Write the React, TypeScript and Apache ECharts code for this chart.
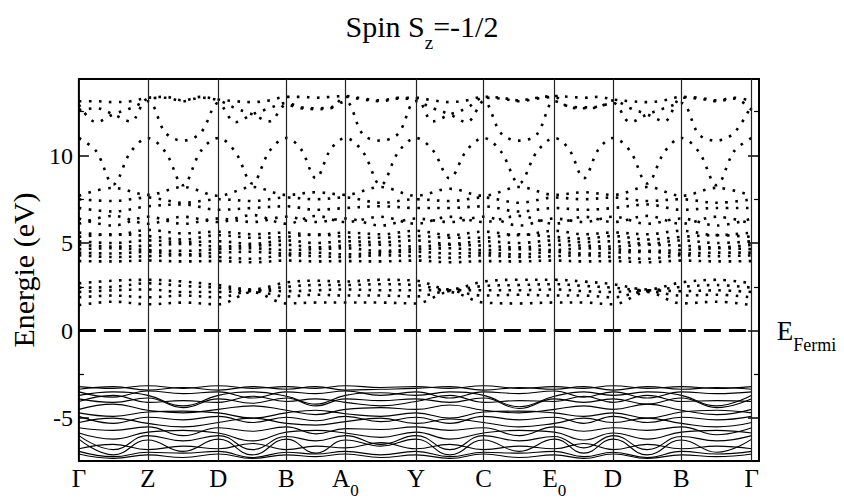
import React, { useEffect, useRef } from "react";
import * as echarts from "echarts";

const FONT = "Liberation Serif";

// High-symmetry points (labels and their positions along the k-path)
const kLabels = ["Γ", "Z", "D", "B", "A0", "Y", "C", "E0", "D", "B", "Γ"];
const kPos = [0, 69.3, 140.3, 208.7, 268, 339, 407, 478.3, 537.3, 606, 676.7];
const xMax = 684;
const yMin = -7.45;
const yMax = 14.37;
const majorTicks = [-5, 0, 5, 10];
const minorTicks = [-2.5, 2.5, 7.5, 12.5];

// ---- Conduction bands, sampled at quarter points of each segment (41 values) ----
const hb1 = [
  13.1, 13.1, 13.05, 13.1,
  13.3, 13.35, 13.15, 13.35,
  13.2, 13.1, 13.05, 13.15,
  13.35, 13.35, 13.3, 13.35,
  13.4, 13.25, 13.15, 13.3,
  13.3, 13.15, 13.05, 13.15,
  13.35, 13.3, 13.15, 13.3,
  13.4, 13.35, 13.3, 13.35,
  13.2, 13.1, 13.05, 13.15,
  13.35, 13.3, 13.15, 13.3, 13.1,
];
const hb2 = [
  12.9, 11.9, 12.35, 12.7,
  13.1, 11.3, 10.85, 11.3,
  13.0, 11.9, 12.35, 12.7,
  13.0, 12.75, 12.7, 12.75,
  13.1, 11.2, 10.85, 11.25,
  13.1, 12.7, 12.35, 11.9,
  13.1, 11.25, 10.85, 11.2,
  13.1, 12.8, 12.75, 12.8,
  13.0, 11.9, 12.35, 12.7,
  13.0, 11.2, 10.85, 11.3, 12.9,
];
const hb2b = [
  12.6, 12.7, 12.35, 11.95,
  13.25, 13.3, 13.1, 13.3,
  13.15, 12.7, 12.35, 11.95,
  12.9, 12.7, 12.65, 12.7,
  13.35, 13.2, 13.1, 13.25,
  13.25, 11.95, 12.35, 12.7,
  13.3, 13.25, 13.1, 13.25,
  13.35, 12.75, 12.7, 12.75,
  13.15, 12.7, 12.35, 11.95,
  13.3, 13.25, 13.1, 13.25, 12.6,
];
const hb3 = [
  11.0, 10.25, 8.35, 10.2,
  11.0, 10.2, 8.3, 10.25,
  11.0, 10.2, 8.4, 10.25,
  11.0, 10.35, 8.7, 10.35,
  11.0, 10.2, 8.3, 10.2,
  11.0, 10.3, 8.7, 10.3,
  11.0, 10.2, 8.4, 10.2,
  11.0, 10.35, 8.7, 10.35,
  11.0, 10.25, 8.4, 10.2,
  11.0, 10.2, 8.3, 10.25, 11.0,
];

// ---- Conduction bands at k-points and segment midpoints (21 values) ----
const g3a = [7.7, 8.15, 7.75, 8.2, 7.7, 8.2, 7.75, 7.9, 7.75, 8.2, 7.7, 8.1, 7.7, 8.2, 7.75, 7.9, 7.75, 8.2, 7.7, 8.15, 7.7];
const g3b = [7.5, 7.4, 7.6, 7.3, 7.5, 7.4, 7.6, 7.5, 7.6, 7.3, 7.5, 7.4, 7.6, 7.3, 7.6, 7.5, 7.6, 7.4, 7.5, 7.3, 7.5];
const g3c = [7.0, 6.8, 7.1, 7.2, 6.9, 7.0, 7.1, 6.9, 7.0, 7.1, 7.0, 7.0, 7.1, 6.8, 7.0, 6.9, 7.0, 7.2, 6.9, 7.0, 7.0];
const g3d = [6.1, 6.55, 6.1, 6.5, 6.2, 6.6, 6.1, 6.55, 6.2, 6.5, 6.1, 6.5, 6.2, 6.55, 6.1, 6.5, 6.2, 6.55, 6.1, 6.5, 6.1];
const g3e = [6.4, 6.0, 6.5, 6.1, 6.4, 6.2, 6.5, 6.2, 6.4, 6.0, 6.4, 6.2, 6.5, 6.0, 6.4, 6.2, 6.5, 6.1, 6.4, 6.0, 6.4];

const g2a = [5.6, 5.45, 5.75, 5.55, 5.65, 5.5, 5.6, 5.45, 5.6, 5.5, 5.7, 5.45, 5.65, 5.45, 5.7, 5.5, 5.6, 5.5, 5.7, 5.45, 5.6];
const g2b = [5.35, 5.5, 5.4, 5.2, 5.45, 5.3, 5.35, 5.5, 5.35, 5.3, 5.4, 5.3, 5.3, 5.5, 5.35, 5.25, 5.4, 5.2, 5.35, 5.45, 5.35];
const g2c = [5.1, 5.0, 5.15, 5.05, 5.1, 4.95, 5.15, 5.0, 5.1, 5.05, 5.15, 4.95, 5.1, 5.0, 5.15, 5.05, 5.1, 4.95, 5.15, 5.0, 5.1];
const g2d = [4.9, 4.8, 4.85, 4.95, 4.8, 4.85, 4.9, 4.75, 4.85, 4.9, 4.8, 4.9, 4.85, 4.75, 4.9, 4.85, 4.8, 4.9, 4.85, 4.75, 4.9];
const g2e = [4.65, 4.7, 4.6, 4.55, 4.65, 4.7, 4.6, 4.65, 4.7, 4.55, 4.65, 4.7, 4.6, 4.65, 4.6, 4.7, 4.65, 4.55, 4.6, 4.7, 4.65];
const g2f = [4.45, 4.4, 4.5, 4.35, 4.45, 4.5, 4.4, 4.45, 4.35, 4.45, 4.5, 4.4, 4.45, 4.35, 4.5, 4.4, 4.45, 4.5, 4.4, 4.45, 4.45];
const g2g = [4.3, 4.2, 4.25, 4.3, 4.2, 4.1, 4.3, 4.25, 4.2, 4.3, 4.25, 4.15, 4.3, 4.2, 4.25, 4.3, 4.2, 4.1, 4.3, 4.25, 4.3];
const g2h = [3.97, 3.95, 4.0, 3.95, 3.97, 3.9, 4.0, 3.95, 3.97, 3.95, 4.0, 3.9, 3.97, 3.95, 4.0, 3.95, 3.97, 3.9, 4.0, 3.95, 3.97];

const g1a = [2.7, 2.85, 2.9, 2.8, 2.6, 2.35, 2.75, 2.85, 2.8, 2.9, 2.85, 2.35, 2.8, 2.9, 2.9, 2.8, 2.65, 2.35, 2.75, 2.9, 2.7];
const g1b = [2.45, 2.5, 2.7, 2.55, 2.45, 2.3, 2.5, 2.6, 2.6, 2.65, 2.6, 2.3, 2.55, 2.6, 2.65, 2.55, 2.45, 2.3, 2.5, 2.6, 2.45];
const g1c = [2.2, 2.3, 2.35, 2.2, 2.2, 2.3, 2.25, 2.3, 2.35, 2.3, 2.3, 2.3, 2.3, 2.3, 2.35, 2.25, 2.2, 2.3, 2.25, 2.3, 2.2];
const g1d = [1.9, 2.0, 1.9, 2.0, 1.9, 2.25, 1.95, 2.05, 2.0, 2.0, 1.95, 2.25, 2.0, 2.05, 2.0, 2.0, 1.9, 2.25, 2.0, 2.05, 1.9];
const g1e = [1.45, 1.65, 1.5, 1.6, 1.5, 2.2, 1.55, 1.6, 1.6, 1.6, 1.55, 2.2, 1.6, 1.55, 1.6, 1.6, 1.5, 2.2, 1.55, 1.65, 1.45];

// ---- Valence bands (solid lines), 21 values ----
const v1 = [-3.2, -3.3, -3.15, -3.3, -3.15, -3.3, -3.2, -3.3, -3.15, -3.25, -3.2, -3.3, -3.15, -3.3, -3.2, -3.3, -3.15, -3.3, -3.2, -3.3, -3.2];
const v2 = [-3.35, -3.2, -3.4, -3.25, -3.4, -3.2, -3.35, -3.2, -3.4, -3.35, -3.3, -3.2, -3.4, -3.25, -3.35, -3.2, -3.4, -3.2, -3.35, -3.25, -3.35];
const v3 = [-3.5, -3.8, -3.45, -3.6, -3.5, -3.85, -3.5, -3.6, -3.45, -3.7, -3.5, -3.85, -3.5, -3.6, -3.45, -3.8, -3.5, -3.85, -3.5, -3.6, -3.5];
const v4 = [-3.7, -3.5, -3.7, -4.3, -3.7, -3.5, -3.75, -4.2, -3.7, -3.55, -3.7, -3.5, -3.7, -4.35, -3.75, -3.5, -3.7, -3.5, -3.7, -4.3, -3.7];
const v5 = [-3.9, -4.1, -3.85, -4.4, -3.9, -4.15, -3.85, -4.3, -3.9, -4.0, -3.9, -4.1, -3.85, -4.45, -3.9, -4.1, -3.9, -4.2, -3.85, -4.4, -3.9];
const v6 = [-4.05, -3.7, -4.1, -4.0, -4.1, -3.75, -4.05, -3.9, -4.1, -4.3, -4.05, -3.7, -4.1, -4.0, -4.05, -3.75, -4.1, -3.7, -4.05, -4.0, -4.05];
const v7 = [-4.5, -4.2, -4.55, -4.7, -4.5, -4.3, -4.55, -4.8, -4.5, -4.4, -4.5, -4.25, -4.55, -4.7, -4.5, -4.3, -4.5, -4.2, -4.55, -4.8, -4.5];
const v8 = [-4.7, -4.9, -4.65, -4.6, -4.7, -5.0, -4.7, -4.55, -4.75, -4.9, -4.7, -5.0, -4.65, -4.6, -4.7, -4.9, -4.7, -5.0, -4.65, -4.55, -4.7];
const v9 = [-4.9, -5.3, -4.95, -5.1, -4.9, -5.25, -4.95, -5.15, -4.9, -5.2, -4.95, -5.3, -4.9, -5.1, -4.95, -5.3, -4.9, -5.25, -4.95, -5.1, -4.9];
const v10 = [-5.25, -5.0, -5.3, -5.5, -5.25, -5.0, -5.3, -5.4, -5.2, -5.0, -5.3, -5.05, -5.25, -5.5, -5.3, -5.0, -5.25, -5.0, -5.3, -5.5, -5.25];
const v11 = [-5.55, -5.7, -5.5, -6.0, -5.55, -5.75, -5.5, -5.9, -5.6, -5.65, -5.5, -5.7, -5.55, -6.0, -5.5, -5.75, -5.55, -5.7, -5.5, -5.95, -5.55];
const v12 = [-5.85, -6.2, -5.8, -5.7, -5.85, -6.3, -5.8, -5.7, -5.85, -6.1, -5.8, -6.2, -5.85, -5.7, -5.8, -6.25, -5.85, -6.2, -5.8, -5.7, -5.85];
const v13 = [-6.0, -6.8, -6.0, -6.3, -6.0, -6.8, -6.05, -6.3, -6.0, -6.5, -6.0, -6.8, -6.0, -6.3, -6.05, -6.7, -6.0, -6.8, -6.05, -6.3, -6.0];
const v14 = [-6.2, -7.1, -6.25, -6.9, -6.2, -7.1, -6.2, -7.0, -6.25, -6.6, -6.2, -7.1, -6.25, -6.9, -6.2, -7.0, -6.2, -7.1, -6.25, -6.95, -6.2];
const v15 = [-6.75, -6.5, -6.8, -6.6, -6.75, -6.45, -6.8, -6.6, -6.7, -6.4, -6.75, -6.5, -6.8, -6.6, -6.75, -6.45, -6.8, -6.5, -6.75, -6.6, -6.75];
const v16 = [-6.9, -7.2, -6.95, -7.0, -6.9, -7.25, -6.95, -7.05, -6.9, -7.1, -6.9, -7.2, -6.95, -7.0, -6.9, -7.2, -6.95, -7.25, -6.9, -7.05, -6.9];
const v17 = [-7.05, -7.3, -7.1, -7.25, -7.05, -7.3, -7.1, -7.2, -7.05, -7.25, -7.1, -7.3, -7.05, -7.25, -7.1, -7.3, -7.05, -7.3, -7.1, -7.2, -7.05];

const highBands = [hb1, hb2, hb2b, hb3];
const midBands = [g3a, g3b, g3c, g3d, g3e, g2a, g2b, g2c, g2d, g2e, g2f, g2g, g2h, g1a, g1b, g1c, g1d, g1e];
const valenceBands = [v1, v2, v3, v4, v5, v6, v7, v8, v9, v10, v11, v12, v13, v14, v15, v16, v17];

// sample positions along the path: k-points subdivided into n equal steps
function samplePositions(n: number): number[] {
  const xs: number[] = [];
  for (let s = 0; s < kPos.length - 1; s++) {
    for (let j = 0; j < n; j++) xs.push(kPos[s] + ((kPos[s + 1] - kPos[s]) * j) / n);
  }
  xs.push(kPos[kPos.length - 1]);
  return xs;
}

const txt = (size: number, extra: any = {}) => ({
  fontSize: size,
  fontFamily: FONT,
  fontWeight: "normal",
  color: "#000",
  ...extra,
});

export default function App() {
  const ref = useRef<HTMLDivElement>(null);

  useEffect(() => {
    if (!ref.current) return;
    const chart = echarts.init(ref.current, undefined, { renderer: "svg" });
    const xs21 = samplePositions(2);
    const xs41 = samplePositions(4);

    const dotted = (vals: number[], xs: number[]) => ({
      type: "line",
      data: xs.map((x, i) => [x, vals[i]]),
      smooth: 0.35,
      symbol: "none",
      silent: true,
      lineStyle: { color: "#000", width: 2.6, type: [2.6, 7.4], cap: "butt" },
    });
    const solid = (vals: number[]) => ({
      type: "line",
      data: xs21.map((x, i) => [x, vals[i]]),
      smooth: 0.45,
      symbol: "none",
      silent: true,
      lineStyle: { color: "#000", width: 1.1 },
    });

    const series: any[] = [
      ...highBands.map((b) => dotted(b, xs41)),
      ...midBands.map((b) => dotted(b, xs21)),
      ...valenceBands.map((b) => solid(b)),
      {
        type: "line",
        data: [
          [kPos[0], 0],
          [kPos[kPos.length - 1], 0],
        ],
        symbol: "none",
        silent: true,
        lineStyle: { color: "#000", width: 3, type: [17, 8] },
        endLabel: {
          show: true,
          distance: 25,
          formatter: "{e|E}{f|Fermi}",
          ...txt(26),
          rich: {
            e: txt(27, { lineHeight: 27, verticalAlign: "top" }),
            f: txt(18, { lineHeight: 18, verticalAlign: "top", padding: [19, 0, 0, 0] }),
          },
        },
        markLine: {
          silent: true,
          symbol: ["none", "none"],
          label: { show: false },
          lineStyle: { color: "#222", width: 1.2, type: "solid" },
          data: kPos.slice(1).map((x) => ({ xAxis: x })),
        },
      },
    ];

    const yBase = {
      type: "value",
      min: yMin,
      max: yMax,
      axisLine: { show: false },
      splitLine: { show: false },
    };

    chart.setOption({
      animation: false,
      backgroundColor: "#fff",
      textStyle: { fontFamily: FONT },
      title: {
        text: "{a|Spin S}{z|z}{a|=-1/2}",
        left: 417,
        top: 6,
        textAlign: "center",
        textStyle: {
          ...txt(30),
          rich: {
            a: txt(30, { lineHeight: 30, verticalAlign: "top" }),
            z: txt(19, { lineHeight: 19, verticalAlign: "top", padding: [22, 0, 0, 0] }),
          },
        },
      },
      grid: {
        left: 75,
        right: 85,
        top: 79,
        bottom: 30,
        show: true,
        borderColor: "#000",
        borderWidth: 2,
        backgroundColor: "transparent",
      },
      xAxis: {
        type: "value",
        min: 0,
        max: xMax,
        axisLine: { show: false },
        axisTick: { show: false },
        splitLine: { show: false },
        axisLabel: {
          customValues: kPos,
          margin: 5,
          ...txt(25),
          formatter: (v: number) => {
            const i = kPos.findIndex((p) => Math.abs(p - v) < 0.01);
            const l = i >= 0 ? kLabels[i] : "";
            if (l.length === 2) return `{m|${l[0]}}{s|${l[1]}}`;
            return `{m|${l}}`;
          },
          rich: {
            m: txt(25, { lineHeight: 25, verticalAlign: "top" }),
            s: txt(17, { lineHeight: 17, verticalAlign: "top", padding: [16, 0, 0, 0] }),
          },
        },
      },
      yAxis: [
        {
          ...yBase,
          position: "left",
          name: "Energie (eV)",
          nameLocation: "middle",
          nameGap: 36,
          nameTextStyle: txt(30),
          axisTick: { show: true, inside: true, length: 10, customValues: majorTicks, lineStyle: { color: "#000", width: 1.5 } },
          axisLabel: { customValues: majorTicks, margin: 6, ...txt(24) },
        },
        {
          ...yBase,
          position: "left",
          axisTick: { show: true, inside: true, length: 5, customValues: minorTicks, lineStyle: { color: "#000", width: 1.2 } },
          axisLabel: { show: false },
        },
        {
          ...yBase,
          position: "right",
          axisTick: { show: true, inside: true, length: 11, customValues: majorTicks, lineStyle: { color: "#000", width: 1.5 } },
          axisLabel: { show: false },
        },
        {
          ...yBase,
          position: "right",
          axisTick: { show: true, inside: true, length: 5, customValues: minorTicks, lineStyle: { color: "#000", width: 1.2 } },
          axisLabel: { show: false },
        },
      ],
      series,
    });

    return () => chart.dispose();
  }, []);

  return (
    <div
      ref={ref}
      style={{ position: "fixed", left: 0, top: 0, width: 844, height: 499, background: "#fff" }}
    />
  );
}
